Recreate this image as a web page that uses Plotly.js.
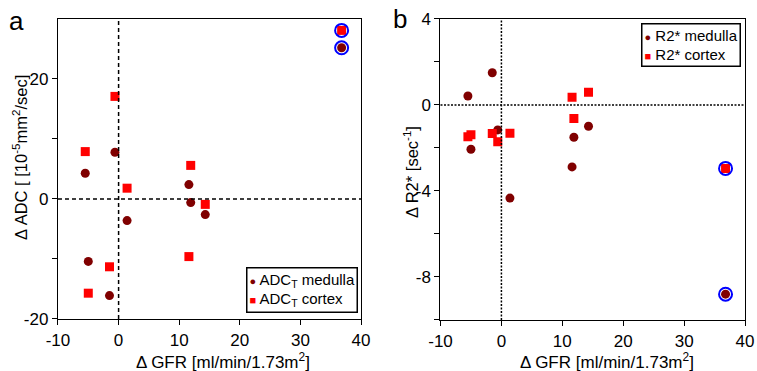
<!DOCTYPE html>
<html><head><meta charset="utf-8">
<script src="https://cdn.plot.ly/plotly-3.0.1.min.js"></script>
<style>html,body{margin:0;padding:0;background:#fff;} #chart{width:757px;height:371px;}</style>
</head><body><div id="chart"></div>
<script>
// Data (GFR change per patient)
var gfr = [-5.5, -5.0, -1.5, -0.6, 1.4, 11.6, 11.9, 14.3, 36.8];
var adcMedulla = [4.3, -10.4, -16.1, 7.8, -3.6, 2.4, -0.6, -2.6, 25.2];
var adcCortex = [7.9, -15.7, -11.3, 17.1, 1.8, -9.6, 5.6, -0.9, 28.1];
var r2Medulla = [0.42, -2.06, 1.5, -1.16, -4.33, -2.88, -1.5, -0.99, -8.8];
var r2Cortex = [-1.48, -1.38, -1.33, -1.71, -1.31, 0.36, -0.63, 0.59, -2.95];
var highlightIndex = 8;

var seriesNamesA = ['ADC<sub>T</sub> medulla', 'ADC<sub>T</sub> cortex'];
var seriesNamesB = ['R2* medulla', 'R2* cortex'];

var xTickVals = [-10, 0, 10, 20, 30, 40];
var xTickText = ['-10', '0', '10', '20', '30', '40'];
var yATickVals = [-20, -10, 0, 10, 20];
var yATickText = ['-20', '', '0', '', '20'];
var yBTickVals = [-10, -8, -6, -4, -2, 0, 2, 4];
var yBTickText = ['', '-8', '', '-4', '', '0', '', '4'];

var DARK = '#800000', RED = '#ff0000', BLUE = '#0000ff';
var FONT = 'Liberation Sans, Arial, sans-serif';

function hl(arr1, arr2) { return [arr1[highlightIndex], arr2[highlightIndex]]; }

var traces = [
  {x: gfr, y: adcMedulla, xaxis: 'x', yaxis: 'y', type: 'scatter', mode: 'markers',
   name: seriesNamesA[0], showlegend: false,
   marker: {symbol: 'circle', size: 9, color: DARK}},
  {x: gfr, y: adcCortex, xaxis: 'x', yaxis: 'y', type: 'scatter', mode: 'markers',
   name: seriesNamesA[1], showlegend: false,
   marker: {symbol: 'square', size: 9, color: RED}},
  {x: [gfr[highlightIndex], gfr[highlightIndex]], y: hl(adcMedulla, adcCortex),
   xaxis: 'x', yaxis: 'y', type: 'scatter', mode: 'markers', showlegend: false,
   marker: {symbol: 'circle-open', size: 13, color: BLUE, line: {width: 2, color: BLUE}}},
  {x: gfr, y: r2Medulla, xaxis: 'x2', yaxis: 'y2', type: 'scatter', mode: 'markers',
   name: seriesNamesB[0], showlegend: false,
   marker: {symbol: 'circle', size: 9, color: DARK}},
  {x: gfr, y: r2Cortex, xaxis: 'x2', yaxis: 'y2', type: 'scatter', mode: 'markers',
   name: seriesNamesB[1], showlegend: false,
   marker: {symbol: 'square', size: 9, color: RED}},
  {x: [gfr[highlightIndex], gfr[highlightIndex]], y: hl(r2Medulla, r2Cortex),
   xaxis: 'x2', yaxis: 'y2', type: 'scatter', mode: 'markers', showlegend: false,
   marker: {symbol: 'circle-open', size: 13, color: BLUE, line: {width: 2, color: BLUE}}}
];

function axisBase(extra) {
  var a = {ticks: 'outside', ticklen: 5, tickwidth: 1, tickcolor: '#000',
    showline: true, mirror: true, linecolor: '#000', linewidth: 1.2,
    showgrid: false, zeroline: false, fixedrange: true,
    tickfont: {family: FONT, size: 17, color: '#000'}, tickmode: 'array'};
  for (var k in extra) a[k] = extra[k];
  return a;
}

function legendText(names) {
  return '<span style="font-size:11px;color:' + DARK + '">●</span> ' + names[0] +
    '<br><span style="font-size:11px;color:' + RED + '">■</span> ' + names[1];
}

var legendAnn = {xref: 'paper', yref: 'paper', showarrow: false, align: 'left',
  bordercolor: '#000', borderwidth: 1.5, borderpad: 2, bgcolor: '#fff',
  font: {family: FONT, size: 15, color: '#000'}};

var layout = {
  width: 757, height: 371,
  margin: {l: 0, r: 0, t: 0, b: 0},
  paper_bgcolor: '#fff', plot_bgcolor: '#fff',
  font: {family: FONT, color: '#000'},
  showlegend: false,
  xaxis: axisBase({domain: [0.0766, 0.4769], range: [-10, 40], tickvals: xTickVals, ticktext: xTickText, anchor: 'y'}),
  yaxis: axisBase({domain: [0.1402, 0.9488], range: [-20, 30], tickvals: yATickVals, ticktext: yATickText, anchor: 'x'}),
  xaxis2: axisBase({domain: [0.5819, 0.9842], range: [-10, 40], tickvals: xTickVals, ticktext: xTickText, anchor: 'y2'}),
  yaxis2: axisBase({domain: [0.1375, 0.9488], range: [-10, 4], tickvals: yBTickVals, ticktext: yBTickText, anchor: 'x2'}),
  shapes: [
    {type: 'line', xref: 'x', yref: 'y domain', x0: 0, x1: 0, y0: 0, y1: 1, line: {color: '#000', width: 1.5, dash: '4px,3px'}},
    {type: 'line', xref: 'x domain', yref: 'y', x0: 0, x1: 1, y0: 0, y1: 0, line: {color: '#000', width: 1.5, dash: '4px,3px'}},
    {type: 'line', xref: 'x2', yref: 'y2 domain', x0: 0, x1: 0, y0: 0, y1: 1, line: {color: '#000', width: 1.5, dash: '2px,1.5px'}},
    {type: 'line', xref: 'x2 domain', yref: 'y2', x0: 0, x1: 1, y0: 0, y1: 0, line: {color: '#000', width: 1.5, dash: '2px,1.5px'}}
  ],
  annotations: [
    {text: 'a', xref: 'paper', yref: 'paper', x: 16 / 757, y: 1 - 21 / 371, xanchor: 'center', yanchor: 'middle', showarrow: false, font: {family: FONT, size: 26}},
    {text: 'b', xref: 'paper', yref: 'paper', x: 400 / 757, y: 1 - 19 / 371, xanchor: 'center', yanchor: 'middle', showarrow: false, font: {family: FONT, size: 26}},
    {text: 'Δ ADC [ [10<sup>-5</sup>mm<sup>2</sup>/sec]', xref: 'paper', yref: 'paper', x: 20 / 757, y: 1 - 158 / 371, xanchor: 'center', yanchor: 'middle', textangle: -90, showarrow: false, font: {family: FONT, size: 16.5}},
    {text: 'Δ R2* [sec<sup>-1</sup>]', xref: 'paper', yref: 'paper', x: 411 / 757, y: 1 - 172 / 371, xanchor: 'center', yanchor: 'middle', textangle: -90, showarrow: false, font: {family: FONT, size: 16.5}},
    {text: 'Δ GFR [ml/min/1.73m<sup>2</sup>]', xref: 'paper', yref: 'paper', x: 223 / 757, y: 1 - 361 / 371, xanchor: 'center', yanchor: 'middle', showarrow: false, font: {family: FONT, size: 17}},
    {text: 'Δ GFR [ml/min/1.73m<sup>2</sup>]', xref: 'paper', yref: 'paper', x: 606.7 / 757, y: 1 - 361 / 371, xanchor: 'center', yanchor: 'middle', showarrow: false, font: {family: FONT, size: 17}},
    Object.assign({}, legendAnn, {text: legendText(seriesNamesA), x: 358 / 757, xanchor: 'right', y: 1 - 313 / 371, yanchor: 'bottom'}),
    Object.assign({}, legendAnn, {text: legendText(seriesNamesB), x: 741 / 757, xanchor: 'right', y: 1 - 23 / 371, yanchor: 'top'})
  ]
};

Plotly.newPlot('chart', traces, layout, {staticPlot: true, displayModeBar: false});
</script></body></html>
